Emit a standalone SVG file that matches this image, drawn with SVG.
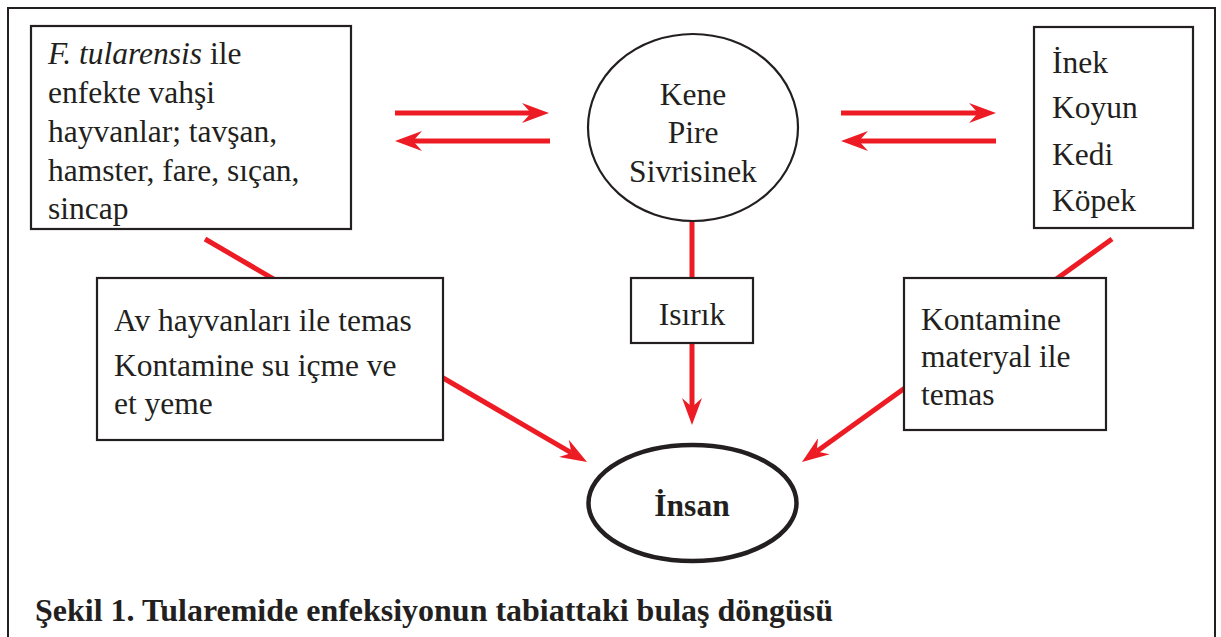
<svg xmlns="http://www.w3.org/2000/svg" width="1221" height="637" viewBox="0 0 1221 637">
  <style>
    .frame { fill: none; stroke: #231f20; stroke-width: 2; }
    .box { fill: #ffffff; stroke: #231f20; stroke-width: 2.2; }
    .oval { fill: #ffffff; stroke: #231f20; stroke-width: 2.2; }
    .oval-bold { fill: #ffffff; stroke: #231f20; stroke-width: 4.5; }
    .arrow { fill: none; stroke: #ed1c24; stroke-width: 5; marker-end: url(#head); }
    .t { font-family: "Liberation Serif", "Times New Roman", serif; font-size: 31.5px; fill: #231f20; }
    .c { text-anchor: middle; }
    .b { font-weight: bold; }
    .cap { font-family: "Liberation Serif", "Times New Roman", serif; font-size: 32px; font-weight: bold; fill: #231f20; }
  </style>
  <defs>
    <marker id="head" viewBox="0 0 27 20" refX="9" refY="10" markerWidth="27" markerHeight="20" markerUnits="userSpaceOnUse" orient="auto">
      <path d="M0,0 L27,10 L0,20 L9,10 Z" fill="#ed1c24"/>
    </marker>
  </defs>

  <rect width="1221" height="637" fill="#ffffff"/>
  <!-- outer frame, open at the bottom -->
  <path class="frame" d="M8,637 V8 H1215 V637"/>

  <g id="connectors">
    <line class="arrow" x1="395" y1="113" x2="531" y2="113"/>
    <line class="arrow" x1="550" y1="141" x2="413" y2="141"/>
    <line class="arrow" x1="841" y1="113" x2="978" y2="113"/>
    <line class="arrow" x1="996" y1="141" x2="859" y2="141"/>
    <line class="arrow" x1="692" y1="221" x2="692" y2="407"/>
    <line class="arrow" x1="205" y1="239" x2="571.5" y2="452.9"/>
    <line class="arrow" x1="1112" y1="239" x2="816.6" y2="451.5"/>
  </g>

  <g id="wild-animals">
    <rect class="box" x="31" y="26" width="320" height="203"/>
    <text class="t" x="48" y="64"><tspan font-style="italic">F. tularensis</tspan> ile</text>
    <text class="t" x="48" y="103">enfekte vahşi</text>
    <text class="t" x="48" y="142">hayvanlar; tavşan,</text>
    <text class="t" x="48" y="181">hamster, fare, sıçan,</text>
    <text class="t" x="48" y="219">sincap</text>
  </g>

  <g id="vectors">
    <ellipse class="oval" cx="693" cy="127.5" rx="105" ry="93.5"/>
    <text class="t c" x="693" y="105">Kene</text>
    <text class="t c" x="693" y="143">Pire</text>
    <text class="t c" x="693" y="182">Sivrisinek</text>
  </g>

  <g id="domestic-animals">
    <rect class="box" x="1034" y="27" width="159" height="201"/>
    <text class="t" x="1052" y="73">İnek</text>
    <text class="t" x="1052" y="118">Koyun</text>
    <text class="t" x="1052" y="165">Kedi</text>
    <text class="t" x="1052" y="211">Köpek</text>
  </g>

  <g id="game-contact">
    <rect class="box" x="97" y="278" width="346" height="162"/>
    <text class="t" x="114" y="331">Av hayvanları ile temas</text>
    <text class="t" x="114" y="376">Kontamine su içme ve</text>
    <text class="t" x="114" y="414">et yeme</text>
  </g>

  <g id="bite">
    <rect class="box" x="631" y="278" width="122" height="65"/>
    <text class="t c" x="692" y="325">Isırık</text>
  </g>

  <g id="material-contact">
    <rect class="box" x="904" y="278" width="202" height="152"/>
    <text class="t" x="921" y="330">Kontamine</text>
    <text class="t" x="921" y="367">materyal ile</text>
    <text class="t" x="921" y="405">temas</text>
  </g>

  <g id="human">
    <ellipse class="oval-bold" cx="692.5" cy="503" rx="104" ry="58"/>
    <text class="t c b" x="692" y="516">İnsan</text>
  </g>

  <text class="cap" x="35" y="621" textLength="798" lengthAdjust="spacingAndGlyphs">Şekil 1. Tularemide enfeksiyonun tabiattaki bulaş döngüsü</text>
</svg>
